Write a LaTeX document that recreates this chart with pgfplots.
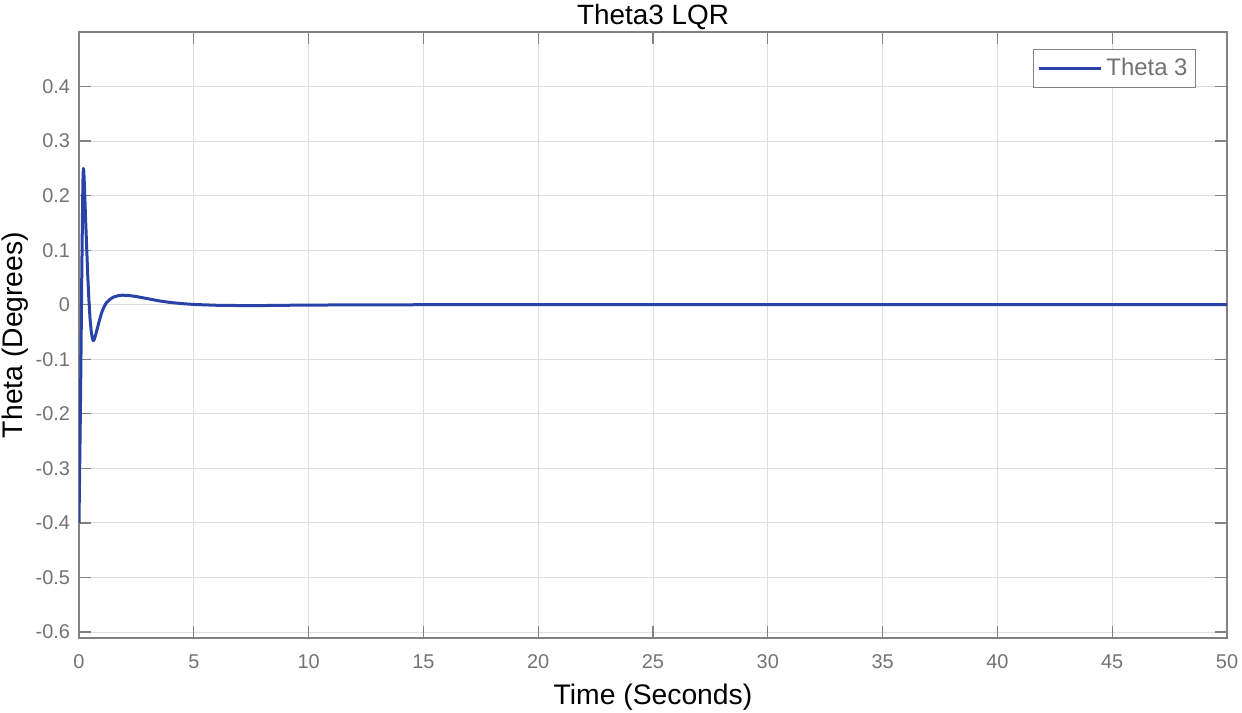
\documentclass[border=0pt]{standalone}
\usepackage{pgfplots}
\pgfplotsset{compat=1.18}
\usepackage{fontspec}
\setmainfont{Liberation Sans}
\definecolor{lineblue}{RGB}{40,66,168}
\definecolor{axgray}{RGB}{130,130,130}
\definecolor{tickgray}{RGB}{115,115,115}
\definecolor{gridgray}{RGB}{222,222,222}
\begin{document}
\begin{tikzpicture}
\useasboundingbox (-39.5bp,-37.5bp) rectangle (581.5bp,319bp);
\begin{axis}[
  at={(0,0)}, anchor=south west,
  scale only axis, width=574bp, height=303bp,
  xmin=0, xmax=50, ymin=-0.611, ymax=0.5,
  xtick={0,5,...,50},
  ytick={-0.6,-0.5,-0.4,-0.3,-0.2,-0.1,0,0.1,0.2,0.3,0.4},
  yticklabels={-0.6,-0.5,-0.4,-0.3,-0.2,-0.1,0,0.1,0.2,0.3,0.4},
  xticklabels={0,5,10,15,20,25,30,35,40,45,50},
  tick pos=both, tick align=inside,
  major tick length=6bp,
  every tick/.style={axgray, line width=0.6bp},
  axis line style={axgray, line width=0.7bp},
  grid=major,
  major grid style={gridgray, line width=0.5bp},
  tick label style={font=\fontsize{10}{12}\selectfont, text=tickgray},
  xticklabel style={yshift=-5bp},
  yticklabel style={xshift=-1bp},
  title={Theta3 LQR},
  title style={font=\fontsize{14}{16}\selectfont, text=black, yshift=-8.5bp},
  xlabel={Time (Seconds)},
  ylabel={Theta (Degrees)},
  label style={font=\fontsize{14.2}{16}\selectfont},
  xlabel style={yshift=-0.5bp},
  ylabel style={yshift=-3bp},
  legend style={at={(1,1)}, anchor=north east, xshift=-15.5bp, yshift=-8.5bp,
    draw=axgray, line width=0.5bp, font=\fontsize{12}{14}\selectfont, text=tickgray,
    inner xsep=2bp, inner ysep=2.5bp},
  legend cell align=left,
  legend image code/.code={\draw[#1, line width=1.5bp] (0cm,0cm) -- (1.1cm,0cm);},
]
\addplot[lineblue, line width=1.5bp, line join=round] coordinates {
(0,-0.40) (0.03,-0.30) (0.06,-0.20) (0.09,-0.08) (0.12,0.05) (0.15,0.16)
(0.17,0.225) (0.19,0.250) (0.21,0.245) (0.24,0.215) (0.28,0.165) (0.33,0.11)
(0.38,0.055) (0.43,0.01) (0.48,-0.025) (0.53,-0.048) (0.58,-0.061) (0.62,-0.066)
(0.66,-0.064) (0.72,-0.056) (0.80,-0.043) (0.90,-0.027) (1.00,-0.013)
(1.10,-0.003) (1.20,0.004) (1.35,0.010) (1.50,0.014) (1.70,0.0165)
(1.90,0.0175) (2.20,0.0168) (2.50,0.015) (3.00,0.011) (3.50,0.007)
(4.00,0.004) (4.50,0.002) (5.00,0.0005) (6.00,-0.001) (7.00,-0.0015)
(8.00,-0.0015) (9.00,-0.001) (10.00,-0.0007) (12.00,-0.0002) (15.00,0)
(20,0) (30,0) (40,0) (50,0)
};
\addlegendentry{Theta 3}
\end{axis}
\end{tikzpicture}
\end{document}
